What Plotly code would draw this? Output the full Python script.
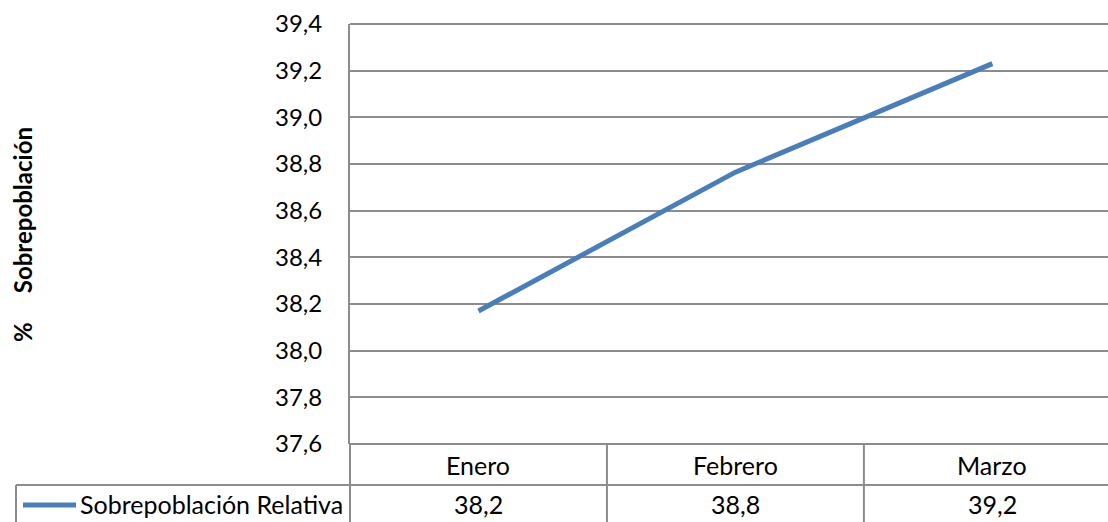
import plotly.graph_objects as go

categories = ["Enero", "Febrero", "Marzo"]
values = [38.17, 38.765, 39.23]
table_values = ["38,2", "38,8", "39,2"]
series_name = "Sobrepoblación Relativa"
y_title = "%&nbsp;&nbsp;&nbsp;&nbsp;&nbsp;Sobrepoblación"
y_ticks = [37.6, 37.8, 38.0, 38.2, 38.4, 38.6, 38.8, 39.0, 39.2, 39.4]

FONT = "Lato"
GRID = "#8c8c8c"
LINE = "#4a7ebb"
FS = 24
FS_T = 25

W, H = 1108, 522
mt, mb, ml = 24, 78, 350
plot_h = H - mt - mb
plot_w = W - ml

def py(p):
    return (H - mb - p) / plot_h

def px(p):
    return (p - ml) / plot_w

xs = list(range(len(categories)))

fig = go.Figure()
fig.add_trace(go.Scatter(
    x=xs, y=values, mode="lines", name=series_name,
    line=dict(color=LINE, width=5), showlegend=False, hoverinfo="skip",
))

fig.update_layout(
    width=W, height=H,
    margin=dict(l=ml, r=0, t=mt, b=mb, pad=0),
    paper_bgcolor="white", plot_bgcolor="white",
    separators=",.",
    font=dict(family=FONT, color="#000000"),
    xaxis=dict(range=[-0.5, 2.45], showgrid=False, showticklabels=False,
               zeroline=False, showline=False, fixedrange=True),
    yaxis=dict(range=[37.6, 39.4], tickvals=y_ticks, tickformat=".1f",
               showgrid=True, gridcolor=GRID, gridwidth=1.5,
               zeroline=False, showline=True, linecolor=GRID, linewidth=2,
               ticks="", ticklabelstandoff=21,
               tickfont=dict(family=FONT, size=FS, color="#000000"),
               fixedrange=True),
)

# y-axis title
fig.add_annotation(x=px(22), y=py(235), xref="paper", yref="paper", text=f"<b>{y_title}</b>",
                   textangle=-90, showarrow=False, font=dict(family=FONT, size=24),
                   xanchor="center", yanchor="middle")

shape_line = dict(color=GRID, width=2)
# top line of plot
fig.add_shape(type="line", xref="paper", yref="paper", x0=0, x1=1, y0=1, y1=1, line=shape_line)
# table lines
fig.add_shape(type="line", xref="paper", yref="paper", x0=0, x1=1, y0=0, y1=0, line=shape_line)
fig.add_shape(type="line", xref="paper", yref="paper", x0=px(16), x1=1,
              y0=py(485), y1=py(485), line=shape_line)
fig.add_shape(type="line", xref="paper", yref="paper", x0=0, x1=0, y0=0, y1=py(H), line=shape_line)
fig.add_shape(type="line", xref="paper", yref="paper", x0=px(16), x1=px(16),
              y0=py(485), y1=py(H), line=shape_line)
for i in range(len(categories) - 1):
    fig.add_shape(type="line", xref="x", yref="paper", x0=i + 0.5, x1=i + 0.5,
                  y0=0, y1=py(H), line=shape_line)

# table text
for i, (c, v) in enumerate(zip(categories, table_values)):
    fig.add_annotation(x=i, y=py(465), xref="x", yref="paper", text=c, showarrow=False,
                       font=dict(family=FONT, size=FS_T), xanchor="center", yanchor="middle")
    fig.add_annotation(x=i, y=py(504), xref="x", yref="paper", text=v, showarrow=False,
                       font=dict(family=FONT, size=FS_T), xanchor="center", yanchor="middle")

# legend key in table
fig.add_shape(type="line", xref="paper", yref="paper", x0=px(23), x1=px(76),
              y0=py(505), y1=py(505), line=dict(color=LINE, width=5))
fig.add_annotation(x=px(78), y=py(504), xref="paper", yref="paper", text=series_name,
                   showarrow=False, font=dict(family=FONT, size=FS_T), xanchor="left", yanchor="middle")

fig.write_html("out.html", post_script="document.body.style.margin='0';",
               config={"displayModeBar": False})
